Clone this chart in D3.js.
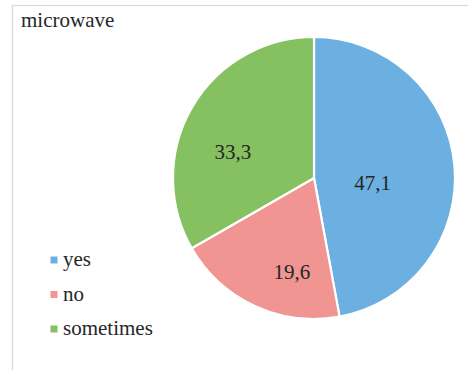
<!DOCTYPE html>
<html>
<head>
<meta charset="utf-8">
<script src="https://cdn.jsdelivr.net/npm/d3@7"></script>
<style>
  html, body { margin: 0; padding: 0; background: #fff; }
  svg { display: block; }
</style>
</head>
<body>
<svg id="chart" width="468" height="370"></svg>
<script>
const title = "microwave";
const categories = ["yes", "no", "sometimes"];
const values = [47.1, 19.6, 33.3];
const valueLabels = ["47,1", "19,6", "33,3"];
const colors = ["#6CAFE1", "#F09592", "#85C160"];

const FONT = "Liberation Serif";
const svg = d3.select("#chart");

function serif(sel) {
  return sel.attr("font-family", FONT)
    .style("font-family", "\"Liberation Serif\", serif", "important")
    .attr("fill", "#262626")
    .attr("font-size", 21);
}

// chart border
svg.append("rect")
  .attr("x", 12.5).attr("y", 5.5)
  .attr("width", 520).attr("height", 420)
  .attr("fill", "#fff")
  .attr("stroke", "#d9d9d9")
  .attr("stroke-width", 1.3);

svg.append("text")
  .attr("x", 21).attr("y", 27)
  .call(serif)
  .text(title);

const cx = 314, cy = 178, R = 141;
const color = d3.scaleOrdinal().domain(categories).range(colors);

const pie = d3.pie().sort(null).value(d => d.v);
const data = categories.map((c, i) => ({ c, v: values[i], lab: valueLabels[i] }));
const arcs = pie(data);

const arc = d3.arc().innerRadius(0).outerRadius(R);
const labelArc = d3.arc().innerRadius(80).outerRadius(80);
// best-fit label nudges (Excel-like placement)
const labelNudge = [[-21, 12], [11.5, 21], [-12, 14]];

const g = svg.append("g").attr("transform", `translate(${cx},${cy})`);
g.selectAll("path.slice")
  .data(arcs)
  .join("path")
  .attr("class", "slice")
  .attr("d", arc)
  .attr("fill", d => color(d.data.c))
  .attr("stroke", "#fff")
  .attr("stroke-width", 2.2)
  .attr("stroke-linejoin", "round");

g.selectAll("text.lbl")
  .data(arcs)
  .join("text")
  .attr("class", "lbl")
  .attr("x", (d, i) => labelArc.centroid(d)[0] + labelNudge[i][0])
  .attr("y", (d, i) => labelArc.centroid(d)[1] + labelNudge[i][1])
  .attr("dy", "0.35em")
  .attr("text-anchor", "middle")
  .call(serif)
  .text(d => d.data.lab);

// legend
const legend = svg.append("g");
const rowY = d3.scalePoint().domain(categories).range([266, 335]);
const rows = legend.selectAll("g").data(categories).join("g")
  .attr("transform", d => `translate(0,${rowY(d)})`);
rows.append("rect")
  .attr("x", 50.5).attr("y", -9.5)
  .attr("width", 7).attr("height", 7)
  .attr("fill", d => color(d));
rows.append("text")
  .attr("x", 63).attr("y", 0)
  .call(serif)
  .text(d => d);
</script>
</body>
</html>
